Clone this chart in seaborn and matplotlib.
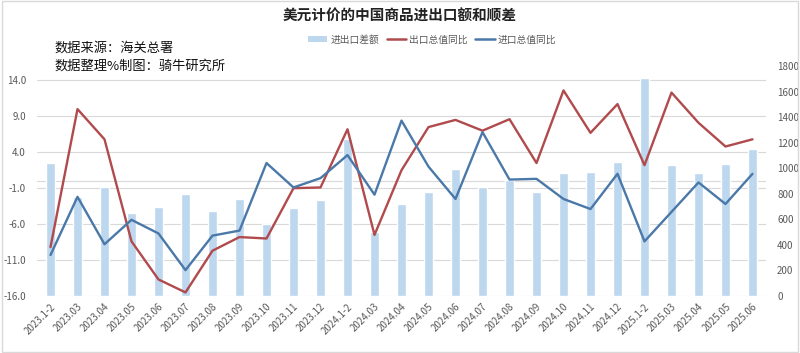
import matplotlib
matplotlib.use("Agg")
import matplotlib.pyplot as plt
import seaborn as sns
import numpy as np
import pandas as pd
from matplotlib.patches import Patch, Rectangle
from matplotlib.lines import Line2D

sns.set_style("white")
plt.rcParams['font.family'] = ['Noto Sans CJK SC', 'DejaVu Sans']

months = ["2023.1-2", "2023.03", "2023.04", "2023.05", "2023.06", "2023.07", "2023.08",
          "2023.09", "2023.10", "2023.11", "2023.12", "2024.1-2", "2024.03", "2024.04",
          "2024.05", "2024.06", "2024.07", "2024.08", "2024.09", "2024.10", "2024.11",
          "2024.12", "2025.1-2", "2025.03", "2025.04", "2025.05", "2025.06"]
trade_balance = [1038, 777, 850, 652, 694, 798, 668, 757, 563, 689, 751, 1225, 503, 717,
                 814, 991, 851, 908, 814, 960, 973, 1051, 1704, 1025, 960, 1031, 1148]
export_yoy = [-9.2, 10.0, 5.8, -8.4, -13.7, -15.5, -9.7, -7.8, -8.0, -1.0, -0.9, 7.2, -7.5, 1.5,
              7.5, 8.5, 7.0, 8.6, 2.5, 12.6, 6.7, 10.7, 2.2, 12.3, 8.1, 4.8, 5.8]
import_yoy = [-10.3, -2.2, -8.8, -5.4, -7.3, -12.4, -7.6, -6.9, 2.5, -0.9, 0.4, 3.6, -1.9, 8.4,
              2.0, -2.5, 6.8, 0.2, 0.3, -2.5, -3.9, 1.0, -8.4, -4.3, -0.2, -3.2, 1.0]
left_ticks = [-16, -11, -6, -1, 4, 9, 14]
right_ticks = [0, 200, 400, 600, 800, 1000, 1200, 1400, 1600, 1800]

BAR_C = "#BDD7EE"
RED_C = "#B04A4C"
BLUE_C = "#4A78A8"
TXT_C = "#595959"
GRID_C = "#D9D9D9"

df = pd.DataFrame({"month": months, "balance": trade_balance,
                   "exp": export_yoy, "imp": import_yoy, "idx": np.arange(len(months))})

fig = plt.figure(figsize=(8, 3.53), dpi=100)
ax = fig.add_axes([37/800, 1-296/353, (766-37)/800, (296-66)/353])
ax2 = ax.twinx()

sns.barplot(data=df, x="month", y="balance", order=months, color=BAR_C, width=0.37,
            saturation=1, ax=ax2)
sns.lineplot(data=df, x="idx", y="exp", color=RED_C, linewidth=1.7, ax=ax)
sns.lineplot(data=df, x="idx", y="imp", color=BLUE_C, linewidth=1.7, ax=ax)

ax.set_zorder(ax2.get_zorder() + 1)
ax.patch.set_visible(False)

ax.set_xlim(-0.5, len(months) - 0.5)
ax.set_ylim(-16, 16)
ax2.set_ylim(0, 1800)
ax.set_yticks(left_ticks)
ax.set_yticklabels([f"{v:.1f}" for v in left_ticks])
ax2.set_yticks(right_ticks)
ax2.set_yticklabels([str(v) for v in right_ticks])

for v in left_ticks:
    ax2.axhline((v + 16) / 32 * 1800, color=GRID_C, linewidth=0.8, zorder=0)
ax2.axhline(16 / 32 * 1800, color=GRID_C, linewidth=0.8, zorder=0)

ax.set_xticks(range(len(months)))
ax.set_xticklabels(months, rotation=45, ha="right", rotation_mode="anchor")
ax.tick_params(axis="x", labelsize=7, colors=TXT_C, length=0, pad=4, labelbottom=True)
ax2.tick_params(axis="x", labelbottom=False, length=0)
ax.tick_params(axis="y", labelsize=7, colors=TXT_C, length=0, pad=8)
ax2.tick_params(axis="y", labelsize=7, colors=TXT_C, length=0, pad=8)
for a in (ax, ax2):
    a.set_xlabel("")
    a.set_ylabel("")
    for s in a.spines.values():
        s.set_visible(False)

fig.text(0.5, 0.955, "美元计价的中国商品进出口额和顺差", ha="center", va="center",
         fontsize=10.5, fontweight="bold", color="#222222")
fig.text(0.068, 0.863, "数据来源：海关总署", ha="left", va="center", fontsize=9.5, color="#111111")
fig.text(0.068, 0.812, "数据整理%制图：骑牛研究所", ha="left", va="center", fontsize=9.5, color="#111111")

handles = [Patch(facecolor=BAR_C, edgecolor="none"),
           Line2D([0], [0], color=RED_C, linewidth=1.8),
           Line2D([0], [0], color=BLUE_C, linewidth=1.8)]
labels = ["进出口差额", "出口总值同比", "进口总值同比"]
leg = fig.legend(handles, labels, loc="center", bbox_to_anchor=(0.54, 0.888), ncol=3,
                 frameon=False, fontsize=7, handlelength=2.0, handletextpad=0.3,
                 columnspacing=0.8, handleheight=0.6)
for t in leg.get_texts():
    t.set_color(TXT_C)

fig.patches.append(Rectangle((0.002, 0.003), 0.996, 0.994, transform=fig.transFigure,
                             fill=False, edgecolor="#D9D9D9", linewidth=1))

fig.savefig("out.png", dpi=100)
